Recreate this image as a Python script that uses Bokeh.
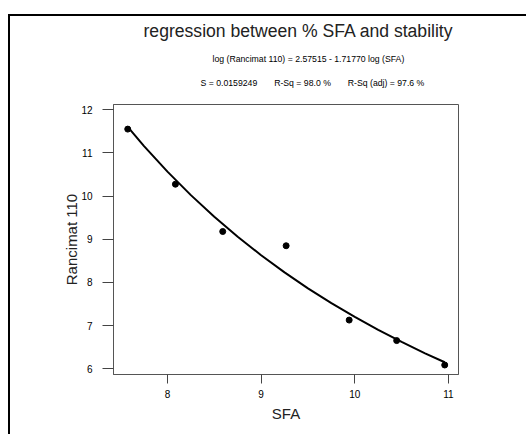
from bokeh.plotting import figure
from bokeh.models import Range1d, Title, FixedTicker
from bokeh.embed import file_html
from bokeh.resources import INLINE

# measured data (SFA %, Rancimat 110 stability)
sfa = [7.576, 8.085, 8.59, 9.267, 9.94, 10.447, 10.96]
rancimat = [11.55, 10.275, 9.18, 8.85, 7.13, 6.655, 6.09]

# fitted regression curve
fit_sfa = [7.576, 7.75, 8.0, 8.25, 8.5, 8.75, 9.0, 9.25, 9.5, 9.75, 10.0, 10.25, 10.5, 10.75, 10.96]
fit_rancimat = [11.604, 11.158, 10.566, 10.022, 9.521, 9.059, 8.631, 8.234, 7.865, 7.522, 7.202, 6.903, 6.623, 6.361, 6.153]

x_ticks = [8, 9, 10, 11]
y_ticks = [6, 7, 8, 9, 10, 11, 12]

title_text = "regression between % SFA and stability"
equation_text = "log (Rancimat 110) = 2.57515 - 1.71770 log (SFA)"
stats_texts = ["S = 0.0159249", "R-Sq = 98.0 %", "R-Sq (adj) = 97.6 %"]

FONT = "Liberation Sans"
GAP = "\u00a0" * 7

p = figure(width=518, height=420, x_range=Range1d(7.424, 11.107), y_range=Range1d(5.87, 12.12),
           output_backend="svg", toolbar_location=None,
           min_border_left=103, min_border_right=70, min_border_top=88, min_border_bottom=62)
p.styles = {"margin-left": "8px", "margin-top": "14px",
            "border-left": "2px solid black", "border-top": "2px solid black"}

p.xgrid.visible = False
p.ygrid.visible = False
p.outline_line_color = "#555555"
p.outline_line_width = 1
p.background_fill_color = "white"
p.border_fill_color = "white"

p.xaxis.ticker = FixedTicker(ticks=x_ticks)
p.yaxis.ticker = FixedTicker(ticks=y_ticks)
for ax in (p.xaxis[0], p.yaxis[0]):
    ax.axis_line_color = "#555555"
    ax.major_tick_line_color = "#444444"
    ax.major_tick_in = 0
    ax.minor_tick_line_color = None
    ax.major_label_text_font = FONT
    ax.major_label_text_font_size = "10px"
    ax.major_label_text_color = "black"
    ax.axis_label_text_font = FONT
    ax.axis_label_text_font_style = "normal"
    ax.axis_label_text_font_size = "15px"
    ax.axis_label_text_color = "#222222"

p.xaxis.major_tick_out = 9
p.xaxis.major_label_standoff = 6
p.xaxis.axis_label = "SFA"
p.xaxis.axis_label_standoff = 4
p.yaxis.major_tick_out = 11
p.yaxis.major_label_standoff = 10
p.yaxis.axis_label = "Rancimat 110"
p.yaxis.axis_label_standoff = -2

p.line(fit_sfa, fit_rancimat, line_color="black", line_width=2)
p.scatter(sfa, rancimat, size=6, fill_color="black", line_color="black")

# blank spacer between the plot box and the statistics line
p.add_layout(Title(text="\u00a0", align="left", standoff=4,
                   text_font=FONT, text_font_size="8.7px", text_font_style="normal"), "above")
p.add_layout(Title(text=GAP.join(stats_texts), align="left", offset=87, standoff=2,
                   text_font=FONT, text_font_size="8.7px", text_font_style="normal",
                   text_color="black"), "above")
p.add_layout(Title(text=equation_text, align="left", offset=99, standoff=22,
                   text_font=FONT, text_font_size="8.7px", text_font_style="normal",
                   text_color="black"), "above")
p.add_layout(Title(text=title_text, align="left", offset=30, standoff=0,
                   text_font=FONT, text_font_size="17.6px", text_font_style="normal",
                   text_color="#222222"), "above")

open("out.html", "w").write(file_html(p, INLINE))
